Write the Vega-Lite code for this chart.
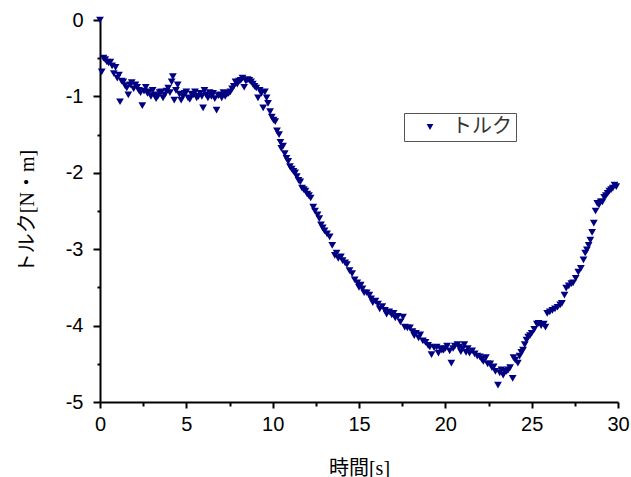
{
  "$schema": "https://vega.github.io/schema/vega-lite/v6.json",
  "autosize": {"type": "none"},
  "padding": {"left": 100, "top": 20, "right": 13, "bottom": 75},
  "width": 518,
  "height": 382,
  "background": "white",
  "config": {
    "view": {"stroke": null},
    "axis": {
      "domainColor": "black", "domainWidth": 2, "tickColor": "black", "tickWidth": 2,
      "labelFont": "Liberation Sans", "labelFontSize": 20, "labelColor": "black",
      "titleFont": "Liberation Serif, Noto Sans CJK JP", "titleFontSize": 20, "titleFontWeight": "normal", "titleColor": "black",
      "grid": false
    }
  },
  "data": {"values": [
{"t":0.0,"v":0.0},{"t":0.1,"v":-0.68},{"t":0.2,"v":-0.5},{"t":0.3,"v":-0.52},{"t":0.4,"v":-0.55},{"t":0.5,"v":-0.56},{"t":0.6,"v":-0.55},{"t":0.7,"v":-0.6},{"t":0.8,"v":-0.7},{"t":0.9,"v":-0.62},
{"t":1.0,"v":-0.76},{"t":1.1,"v":-0.72},{"t":1.16,"v":-1.07},{"t":1.25,"v":-0.8},{"t":1.35,"v":-0.81},{"t":1.45,"v":-0.86},{"t":1.55,"v":-0.89},{"t":1.64,"v":-0.98},{"t":1.75,"v":-0.85},{"t":1.84,"v":-0.82},
{"t":1.95,"v":-0.9},{"t":2.05,"v":-0.85},{"t":2.15,"v":-0.88},{"t":2.25,"v":-0.92},{"t":2.35,"v":-0.95},{"t":2.45,"v":-1.12},{"t":2.55,"v":-0.93},{"t":2.65,"v":-0.88},{"t":2.75,"v":-0.96},{"t":2.85,"v":-0.94},
{"t":2.95,"v":-1.0},{"t":3.05,"v":-0.92},{"t":3.15,"v":-0.98},{"t":3.25,"v":-1.03},{"t":3.35,"v":-1.0},{"t":3.45,"v":-0.95},{"t":3.55,"v":-0.94},{"t":3.65,"v":-1.02},{"t":3.75,"v":-0.98},{"t":3.85,"v":-0.93},
{"t":3.95,"v":-0.89},{"t":4.05,"v":-0.95},{"t":4.15,"v":-0.81},{"t":4.22,"v":-0.74},{"t":4.3,"v":-1.05},{"t":4.4,"v":-0.92},{"t":4.5,"v":-0.85},{"t":4.6,"v":-0.97},{"t":4.7,"v":-1.05},{"t":4.8,"v":-1.0},
{"t":4.9,"v":-0.96},{"t":5.0,"v":-0.94},{"t":5.1,"v":-1.02},{"t":5.2,"v":-1.04},{"t":5.3,"v":-0.97},{"t":5.4,"v":-0.98},{"t":5.5,"v":-0.94},{"t":5.6,"v":-1.02},{"t":5.7,"v":-1.0},{"t":5.8,"v":-0.96},
{"t":5.9,"v":-1.0},{"t":5.97,"v":-1.15},{"t":6.05,"v":-0.92},{"t":6.15,"v":-0.98},{"t":6.25,"v":-1.02},{"t":6.35,"v":-0.95},{"t":6.45,"v":-1.0},{"t":6.55,"v":-0.96},{"t":6.65,"v":-1.03},{"t":6.75,"v":-1.18},
{"t":6.85,"v":-0.99},{"t":6.95,"v":-0.98},{"t":7.05,"v":-1.02},{"t":7.15,"v":-0.95},{"t":7.25,"v":-1.0},{"t":7.35,"v":-0.97},{"t":7.45,"v":-0.96},{"t":7.55,"v":-0.94},{"t":7.65,"v":-0.9},{"t":7.75,"v":-0.87},
{"t":7.85,"v":-0.81},{"t":7.95,"v":-0.84},{"t":8.05,"v":-0.8},{"t":8.15,"v":-0.79},{"t":8.25,"v":-0.76},{"t":8.35,"v":-0.88},{"t":8.45,"v":-0.8},{"t":8.55,"v":-0.78},{"t":8.65,"v":-0.79},{"t":8.75,"v":-0.81},
{"t":8.85,"v":-0.84},{"t":8.95,"v":-0.87},{"t":9.05,"v":-0.89},{"t":9.15,"v":-1.02},{"t":9.25,"v":-0.92},{"t":9.35,"v":-0.96},{"t":9.45,"v":-1.15},{"t":9.55,"v":-0.94},{"t":9.65,"v":-1.02},{"t":9.73,"v":-1.09},
{"t":9.85,"v":-1.2},{"t":9.95,"v":-1.27},{"t":10.05,"v":-1.31},{"t":10.15,"v":-1.33},{"t":10.25,"v":-1.45},{"t":10.37,"v":-1.5},{"t":10.45,"v":-1.6},{"t":10.5,"v":-1.68},{"t":10.6,"v":-1.65},{"t":10.7,"v":-1.75},
{"t":10.8,"v":-1.81},{"t":10.9,"v":-1.85},{"t":11.0,"v":-1.92},{"t":11.1,"v":-1.95},{"t":11.2,"v":-1.98},{"t":11.3,"v":-2.0},{"t":11.4,"v":-2.05},{"t":11.5,"v":-2.1},{"t":11.6,"v":-2.12},{"t":11.7,"v":-2.2},
{"t":11.8,"v":-2.22},{"t":11.9,"v":-2.24},{"t":12.0,"v":-2.28},{"t":12.1,"v":-2.3},{"t":12.2,"v":-2.33},{"t":12.35,"v":-2.45},{"t":12.45,"v":-2.5},{"t":12.6,"v":-2.55},{"t":12.7,"v":-2.6},{"t":12.8,"v":-2.68},
{"t":12.9,"v":-2.72},{"t":13.0,"v":-2.76},{"t":13.15,"v":-2.8},{"t":13.3,"v":-2.84},{"t":13.45,"v":-2.95},{"t":13.6,"v":-3.08},{"t":13.7,"v":-3.05},{"t":13.8,"v":-3.12},{"t":13.95,"v":-3.1},{"t":14.05,"v":-3.15},
{"t":14.2,"v":-3.18},{"t":14.3,"v":-3.2},{"t":14.45,"v":-3.28},{"t":14.6,"v":-3.32},{"t":14.75,"v":-3.4},{"t":14.9,"v":-3.44},{"t":15.0,"v":-3.5},{"t":15.1,"v":-3.47},{"t":15.2,"v":-3.52},{"t":15.3,"v":-3.57},
{"t":15.45,"v":-3.57},{"t":15.6,"v":-3.6},{"t":15.7,"v":-3.65},{"t":15.8,"v":-3.7},{"t":15.95,"v":-3.68},{"t":16.1,"v":-3.72},{"t":16.2,"v":-3.78},{"t":16.35,"v":-3.75},{"t":16.5,"v":-3.8},{"t":16.6,"v":-3.85},
{"t":16.75,"v":-3.82},{"t":16.9,"v":-3.86},{"t":17.0,"v":-3.84},{"t":17.1,"v":-3.9},{"t":17.25,"v":-3.88},{"t":17.4,"v":-3.95},{"t":17.55,"v":-3.89},{"t":17.65,"v":-4.02},{"t":17.8,"v":-4.03},{"t":17.95,"v":-4.03},
{"t":18.1,"v":-4.08},{"t":18.2,"v":-4.13},{"t":18.3,"v":-4.1},{"t":18.45,"v":-4.16},{"t":18.55,"v":-4.12},{"t":18.7,"v":-4.2},{"t":18.85,"v":-4.22},{"t":19.0,"v":-4.26},{"t":19.1,"v":-4.28},{"t":19.2,"v":-4.38},
{"t":19.35,"v":-4.29},{"t":19.5,"v":-4.28},{"t":19.6,"v":-4.36},{"t":19.7,"v":-4.3},{"t":19.8,"v":-4.32},{"t":19.9,"v":-4.32},{"t":20.0,"v":-4.3},{"t":20.1,"v":-4.27},{"t":20.25,"v":-4.33},{"t":20.35,"v":-4.49},
{"t":20.45,"v":-4.3},{"t":20.55,"v":-4.27},{"t":20.7,"v":-4.25},{"t":20.8,"v":-4.28},{"t":20.9,"v":-4.34},{"t":21.0,"v":-4.3},{"t":21.1,"v":-4.25},{"t":21.2,"v":-4.35},{"t":21.3,"v":-4.3},{"t":21.4,"v":-4.36},
{"t":21.55,"v":-4.33},{"t":21.7,"v":-4.37},{"t":21.85,"v":-4.4},{"t":22.0,"v":-4.41},{"t":22.1,"v":-4.44},{"t":22.2,"v":-4.47},{"t":22.35,"v":-4.42},{"t":22.45,"v":-4.5},{"t":22.6,"v":-4.5},{"t":22.7,"v":-4.55},
{"t":22.8,"v":-4.54},{"t":22.9,"v":-4.6},{"t":23.05,"v":-4.78},{"t":23.15,"v":-4.62},{"t":23.25,"v":-4.58},{"t":23.35,"v":-4.65},{"t":23.45,"v":-4.6},{"t":23.55,"v":-4.6},{"t":23.65,"v":-4.58},{"t":23.75,"v":-4.55},
{"t":23.9,"v":-4.69},{"t":23.95,"v":-4.42},{"t":24.05,"v":-4.45},{"t":24.2,"v":-4.49},{"t":24.3,"v":-4.4},{"t":24.4,"v":-4.35},{"t":24.5,"v":-4.32},{"t":24.6,"v":-4.25},{"t":24.7,"v":-4.19},{"t":24.8,"v":-4.15},
{"t":24.9,"v":-4.13},{"t":25.0,"v":-4.1},{"t":25.15,"v":-4.05},{"t":25.3,"v":-3.98},{"t":25.4,"v":-3.97},{"t":25.55,"v":-4.0},{"t":25.7,"v":-3.98},{"t":25.8,"v":-4.02},{"t":25.9,"v":-3.84},{"t":26.05,"v":-3.82},
{"t":26.2,"v":-3.8},{"t":26.35,"v":-3.78},{"t":26.5,"v":-3.76},{"t":26.65,"v":-3.73},{"t":26.75,"v":-3.71},{"t":26.9,"v":-3.6},{"t":27.0,"v":-3.51},{"t":27.15,"v":-3.48},{"t":27.3,"v":-3.45},{"t":27.4,"v":-3.44},
{"t":27.55,"v":-3.38},{"t":27.7,"v":-3.3},{"t":27.85,"v":-3.25},{"t":28.0,"v":-3.14},{"t":28.1,"v":-3.05},{"t":28.2,"v":-3.01},{"t":28.3,"v":-2.95},{"t":28.4,"v":-2.88},{"t":28.5,"v":-2.78},{"t":28.6,"v":-2.66},
{"t":28.7,"v":-2.5},{"t":28.8,"v":-2.4},{"t":28.9,"v":-2.42},{"t":29.0,"v":-2.38},{"t":29.1,"v":-2.38},{"t":29.2,"v":-2.32},{"t":29.3,"v":-2.3},{"t":29.4,"v":-2.27},{"t":29.5,"v":-2.24},{"t":29.6,"v":-2.22},
{"t":29.7,"v":-2.2},{"t":29.8,"v":-2.16},{"t":29.9,"v":-2.18}
  ]},
  "mark": {"type": "point", "shape": "triangle-down", "filled": true, "size": 60, "opacity": 1},
  "encoding": {
    "x": {
      "field": "t", "type": "quantitative",
      "scale": {"domain": [0, 30], "nice": false, "zero": false},
      "axis": {
        "title": "時間[s]",
        "values": [0, 2.5, 5, 7.5, 10, 12.5, 15, 17.5, 20, 22.5, 25, 27.5, 30],
        "labelExpr": "datum.value % 5 == 0 ? '' + datum.value : ''",
        "tickSize": {"condition": {"test": "datum.value % 5 != 0", "value": 4}, "value": 6},
        "labelPadding": 6, "titlePadding": 24, "labelFlush": false
      }
    },
    "y": {
      "field": "v", "type": "quantitative",
      "scale": {"domain": [-5, 0], "nice": false, "zero": false},
      "axis": {
        "title": "トルク[N・m]",
        "values": [-5, -4.5, -4, -3.5, -3, -2.5, -2, -1.5, -1, -0.5, 0],
        "labelExpr": "datum.value % 1 == 0 ? '' + datum.value : ''",
        "tickSize": {"condition": {"test": "datum.value % 1 != 0", "value": 3}, "value": 7},
        "labelPadding": 10, "titlePadding": 28, "labelFlush": false
      }
    },
    "color": {
      "datum": "トルク",
      "scale": {"range": ["#000080"]},
      "legend": {
        "title": null, "orient": "none", "legendX": 304, "legendY": 93,
        "symbolType": "triangle-down", "symbolSize": 45, "symbolStrokeWidth": 0,
        "labelFont": "Noto Sans CJK JP", "labelFontSize": 20, "labelColor": "#333",
        "strokeColor": "#555", "fillColor": "white", "padding": 4,
        "symbolOffset": 12, "labelOffset": 12
      }
    }
  }
}
